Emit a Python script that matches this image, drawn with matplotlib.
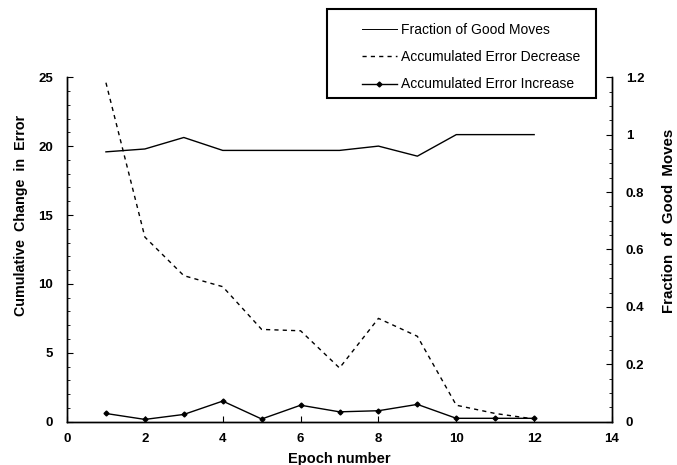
import matplotlib.pyplot as plt
from matplotlib.patches import Rectangle

plt.rcParams['font.family'] = ['Liberation Sans', 'DejaVu Sans']

# values
epochs = [1, 2, 3, 4, 5, 6, 7, 8, 9, 10, 11, 12]
good_frac = [0.94, 0.95, 0.99, 0.945, 0.945, 0.945, 0.945, 0.96, 0.925, 1.0, 1.0, 1.0]
err_decrease = [24.6, 13.4, 10.6, 9.8, 6.7, 6.6, 3.9, 7.5, 6.2, 1.2, 0.6, 0.2]
err_increase = [0.6, 0.17, 0.53, 1.5, 0.2, 1.2, 0.72, 0.8, 1.26, 0.25, 0.25, 0.25]

W, H = 677, 465
fig = plt.figure(figsize=(6.77, 4.65), dpi=100)
ax = fig.add_axes([0.099, 0.093, 0.805, 0.741])
ax2 = ax.twinx()

l1, = ax2.plot(epochs, good_frac, color='black', lw=1.0, label='Fraction of Good Moves')
l2, = ax.plot(epochs, err_decrease, color='black', lw=1.0, linestyle=(0, (3, 3)),
              label='Accumulated Error Decrease')
l3, = ax.plot(epochs, err_increase, color='black', lw=1.0, marker='D', markersize=2.5,
              label='Accumulated Error Increase')

ax.set_xlim(0, 14)
ax.set_ylim(0, 25)
ax2.set_ylim(0, 1.2)
ax.set_xticks(range(0, 15, 2))
ax.set_yticks(range(0, 26, 5))
ax.set_yticks(range(0, 26, 1), minor=True)
ax2.set_yticks([0, 0.2, 0.4, 0.6, 0.8, 1, 1.2])
ax2.set_yticklabels(['0', '0.2', '0.4', '0.6', '0.8', '1', '1.2'])
ax2.set_yticks([i * 0.05 for i in range(25)], minor=True)

for a in (ax, ax2):
    a.spines['top'].set_visible(False)
    for s in a.spines.values():
        s.set_linewidth(1.0)
    a.tick_params(direction='in', length=4, width=0.8, labelsize=9.5)
    a.tick_params(which='minor', direction='in', length=2.5, width=0.6)
    for lab in a.get_xticklabels() + a.get_yticklabels():
        lab.set_fontweight('bold')

ax.tick_params(axis='x', pad=8)
ax.tick_params(axis='y', pad=10)
ax2.tick_params(axis='y', pad=10)

ax.set_xlabel('Epoch number', fontsize=10.5, fontweight='bold', labelpad=5)
ax.set_ylabel('Cumulative  Change  in  Error', fontsize=10.3, fontweight='bold')
ax2.set_ylabel('Fraction  of  Good  Moves', fontsize=10.8, fontweight='bold')
ax.yaxis.set_label_coords(-0.072, 0.60)
ax2.yaxis.set_label_coords(1.092, 0.583)

# legend box drawn by hand so it sits where the original one does
fig.patches.append(Rectangle((327 / W, 1 - 98 / H), 269 / W, 89 / H, transform=fig.transFigure,
                             fill=False, edgecolor='black', linewidth=1.5))
leg = fig.legend(handles=[l1, l2, l3], loc='upper left', bbox_to_anchor=(362 / W, 1 - 23 / H),
                 fontsize=10, frameon=False, handlelength=2.5, labelspacing=0.95,
                 borderpad=0.0, borderaxespad=0.0, handletextpad=0.3)
leg.get_lines()[0].set_linewidth(0.7)

fig.savefig('out.png', dpi=100)
